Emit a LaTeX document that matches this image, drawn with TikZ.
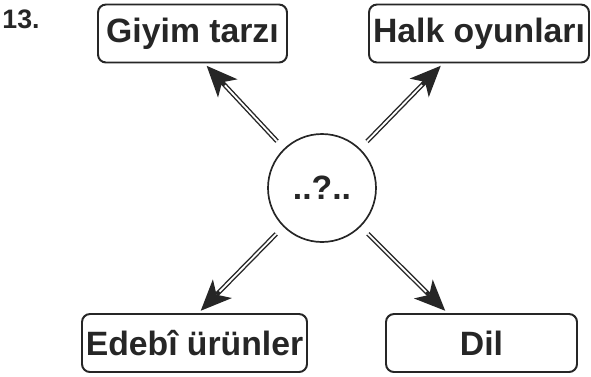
\documentclass[tikz,border=0pt]{standalone}
\usepackage{fontspec}
\setmainfont{Liberation Sans}
\usetikzlibrary{arrows.meta}
\definecolor{ink}{RGB}{38,38,38}
\begin{document}
\begin{tikzpicture}[
  box/.style={draw=ink,line width=1.4pt,rounded corners=0.2cm,minimum height=1.45cm,inner sep=0pt,text=ink,font=\fontsize{24}{27}\selectfont\bfseries},
  arr/.style={draw=ink,line width=3.3pt,shorten <=0.25cm,shorten >=0.08cm,-{Stealth[length=22pt,width=19pt,inset=6pt,line width=0pt]},
    postaction={draw=white,line width=1.3pt,-,shorten <=0.25cm,shorten >=0.08cm+19pt}}
]
\useasboundingbox (0,0) rectangle (14.775,-9.4);
\node[text=ink,font=\fontsize{19}{22}\selectfont\bfseries] (num) at (0.525,-0.475) {13.};
\node[draw=ink,line width=1.2pt,circle,minimum size=2.7cm,inner sep=0pt,text=ink,font=\fontsize{24}{27}\selectfont\bfseries] (q) at (8.05,-4.7) {..?..};
\node[box,minimum width=4.725cm] (giyim) at (4.8125,-0.8375) {Giyim tarzı};
\node[box,minimum width=5.5cm] (halk) at (11.975,-0.8375) {Halk oyunları};
\node[box,minimum width=5.625cm] (edebi) at (4.8625,-8.575) {Edebî ürünler};
\node[box,minimum width=4.775cm] (dil) at (12.0375,-8.575) {Dil};
\draw[arr] (q.134) -- ([xshift=0.3cm]giyim.south);
\draw[arr] (q.46) -- ([xshift=-0.9cm]halk.south);
\draw[arr] (q.225) -- ([xshift=0.1cm]edebi.north);
\draw[arr] (q.315) -- ([xshift=-0.85cm]dil.north);
\end{tikzpicture}
\end{document}
